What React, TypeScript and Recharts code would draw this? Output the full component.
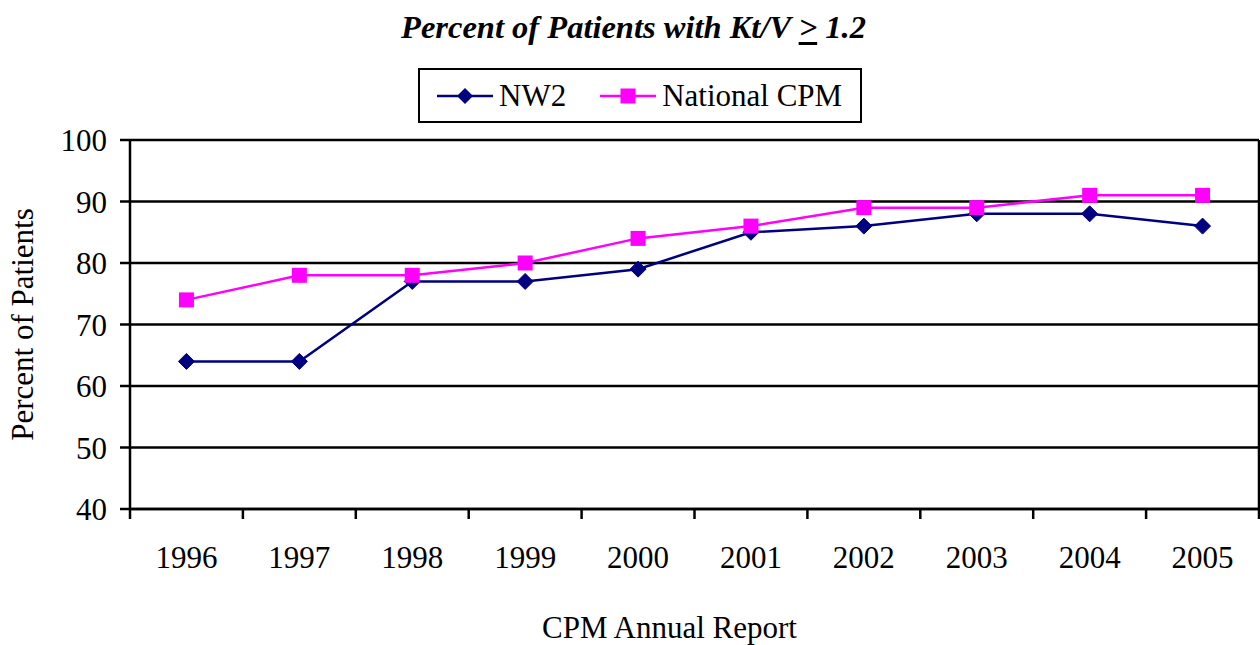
import React from 'react';
import { LineChart, Line, XAxis, YAxis, CartesianGrid, Legend, Label } from 'recharts';

const years = ['1996', '1997', '1998', '1999', '2000', '2001', '2002', '2003', '2004', '2005'];
const nw2Values = [64, 64, 77, 77, 79, 85, 86, 88, 88, 86];
const nationalValues = [74, 78, 78, 80, 84, 86, 89, 89, 91, 91];
const yTicks = [40, 50, 60, 70, 80, 90, 100];

const data = years.map((year, i) => ({ year, nw2: nw2Values[i], national: nationalValues[i] }));

const FONT = '"Liberation Serif", "Times New Roman", Times, serif';
const NAVY = '#000080';
const MAGENTA = '#FF00FF';

const CHART_W = 1260;
const CHART_H = 645;
const MARGIN = { top: 140, right: 1, bottom: 76, left: 60 };
const Y_AXIS_W = 70;
const PLOT_W = CHART_W - MARGIN.left - MARGIN.right - Y_AXIS_W;
const HALF_BAND = PLOT_W / years.length / 2;

const Diamond = (props: any) => {
  const { cx, cy } = props;
  if (cx == null || cy == null) return null;
  const r = 8;
  return <polygon points={`${cx},${cy - r} ${cx + r},${cy} ${cx},${cy + r} ${cx - r},${cy}`} fill={NAVY} stroke={NAVY} strokeWidth={1} />;
};

const Square = (props: any) => {
  const { cx, cy } = props;
  if (cx == null || cy == null) return null;
  const s = 15;
  return <rect x={cx - s / 2} y={cy - s / 2} width={s} height={s} fill={MAGENTA} />;
};

const XTick = (props: any) => {
  const { x, y, payload, index, visibleTicksCount } = props;
  const count = visibleTicksCount || years.length;
  const half = HALF_BAND;
  const last = index === count - 1;
  return (
    <g>
      <line x1={x - half} x2={x - half} y1={y} y2={y + 10} stroke="#000" strokeWidth={2.5} />
      {last && <line x1={x + half} x2={x + half} y1={y} y2={y + 10} stroke="#000" strokeWidth={2.5} />}
      <text x={x} y={y + 59} textAnchor="middle" fontFamily={FONT} fontSize={31} fill="#000">
        {payload.value}
      </text>
    </g>
  );
};

const legendItems = [
  { key: 'nw2', label: 'NW2', color: NAVY, shape: 'diamond' },
  { key: 'national', label: 'National CPM', color: MAGENTA, shape: 'square' },
];

const renderLegend = () => (
  <div
    style={{
      border: '2px solid #000',
      boxSizing: 'border-box',
      width: 444,
      height: 55,
      display: 'flex',
      alignItems: 'center',
      paddingLeft: 17,
      fontFamily: FONT,
      fontSize: 31,
      color: '#000',
      background: '#fff',
    }}
  >
    {legendItems.map((it, i) => (
      <span key={it.key} style={{ display: 'flex', alignItems: 'center', marginRight: i === 0 ? 34 : 0 }}>
        <svg width={56} height={20} style={{ display: 'block' }}>
          <line x1={0} x2={56} y1={10} y2={10} stroke={it.color} strokeWidth={2.5} />
          {it.shape === 'diamond' ? (
            <polygon points="28,2 36,10 28,18 20,10" fill={it.color} />
          ) : (
            <rect x={20.5} y={2.5} width={15} height={15} fill={it.color} />
          )}
        </svg>
        <span style={{ marginLeft: 6, lineHeight: '34px' }}>{it.label}</span>
      </span>
    ))}
  </div>
);

export default function App() {
  return (
    <div style={{ position: 'absolute', left: 0, top: 0, width: CHART_W, height: CHART_H, background: '#fff', overflow: 'hidden' }}>
      <div
        style={{
          position: 'absolute',
          left: 0,
          top: 9,
          width: 1267,
          textAlign: 'center',
          fontFamily: FONT,
          fontSize: 32.5,
          fontWeight: 'bold',
          fontStyle: 'italic',
          lineHeight: '36px',
          color: '#000',
          zIndex: 2,
        }}
      >
        Percent of Patients with Kt/V{' '}
        <span style={{ textDecoration: 'underline', textDecorationThickness: '3px', textUnderlineOffset: '4px' }}>&gt;</span>{' '}
        1.2
      </div>
      <LineChart width={CHART_W} height={CHART_H} data={data} margin={MARGIN}>
        <CartesianGrid
          stroke="#000"
          strokeWidth={2.5}
          horizontal={true}
          vertical={true}
          verticalCoordinatesGenerator={(p: any) => {
            const o = p && p.offset;
            return o ? [o.left + o.width] : [CHART_W - MARGIN.right];
          }}
        />
        <XAxis
          dataKey="year"
          height={60}
          interval={0}
          padding={{ left: HALF_BAND, right: HALF_BAND }}
          axisLine={{ stroke: '#000', strokeWidth: 2.5 }}
          tickLine={false}
          tickSize={0}
          tickMargin={0}
          tick={<XTick />}
        >
          <Label
            content={(p: any) => {
              const vb = p.viewBox || { x: 130, y: 509, width: PLOT_W, height: 60 };
              return (
                <text x={vb.x + vb.width / 2 - 25} y={638} textAnchor="middle" fontFamily={FONT} fontSize={31} fill="#000">
                  CPM Annual Report
                </text>
              );
            }}
          />
        </XAxis>
        <YAxis
          width={Y_AXIS_W}
          domain={[40, 100]}
          ticks={yTicks}
          interval={0}
          tickSize={10}
          tickMargin={13}
          axisLine={{ stroke: '#000', strokeWidth: 2.5 }}
          tickLine={{ stroke: '#000', strokeWidth: 2.5 }}
          tick={{ fill: '#000', fontSize: 31, fontFamily: FONT }}
        >
          <Label
            content={(p: any) => {
              const vb = p.viewBox || { x: 60, y: 140, width: 70, height: 369 };
              const cy = vb.y + vb.height / 2;
              return (
                <text x={33} y={cy} transform={`rotate(-90, 33, ${cy})`} textAnchor="middle" fontFamily={FONT} fontSize={31} fill="#000">
                  Percent of Patients
                </text>
              );
            }}
          />
        </YAxis>
        <Legend
          layout="horizontal"
          verticalAlign="middle"
          align="center"
          wrapperStyle={{ top: 68, left: 418, width: 444, height: 55 }}
          content={renderLegend}
        />
        <Line
          type="linear"
          dataKey="nw2"
          name="NW2"
          stroke={NAVY}
          strokeWidth={2.5}
          dot={<Diamond />}
          activeDot={false}
          isAnimationActive={false}
        />
        <Line
          type="linear"
          dataKey="national"
          name="National CPM"
          stroke={MAGENTA}
          strokeWidth={2.5}
          dot={<Square />}
          activeDot={false}
          isAnimationActive={false}
        />
      </LineChart>
    </div>
  );
}
